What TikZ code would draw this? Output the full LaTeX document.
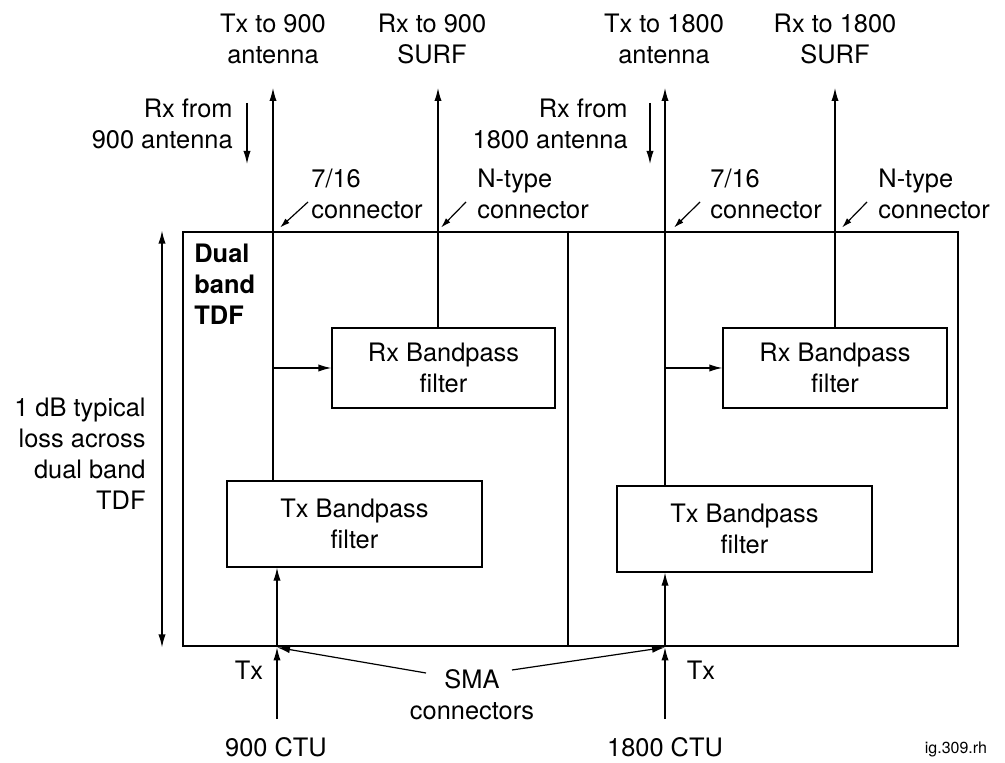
\documentclass[tikz,border=0pt]{standalone}
\usepackage{fontspec}
\setmainfont{TeX Gyre Heros}
\usepackage{tikz}
\usetikzlibrary{arrows.meta, positioning}

\newcommand{\diagfont}{\fontsize{12.7}{15.5}\selectfont}

\begin{document}
\begin{tikzpicture}[
    x=0.5pt, y=-0.5pt,
    every node/.style={font=\diagfont, inner sep=0pt},
    filter/.style={draw, rectangle, line width=0.6pt, align=center},
    frame/.style={draw, rectangle, line width=1.4pt},
    line/.style={line width=0.6pt},
    arrow/.style={-{Latex[length=6.5pt, width=3.6pt]}, line width=0.6pt},
    pointer/.style={-{Latex[length=5pt, width=3pt]}, line width=0.6pt},
    dimline/.style={{Latex[length=6.5pt, width=3.6pt]}-{Latex[length=6.5pt, width=3.6pt]}, line width=0.6pt}
]
\useasboundingbox (0,0) rectangle (1005,763);

% TDF frame
\node[frame, minimum width=387.5pt, minimum height=207pt] (tdf) at (570.5,439) {};
\coordinate (mid) at (568,439);
\draw[line] (tdf.north -| mid) -- (tdf.south -| mid);
\node[font=\diagfont\bfseries, align=left, anchor=north west] (name) at (194,244) {Dual\\band\\TDF};

% Filters
\node[filter, minimum width=127.5pt, minimum height=43pt] (txa) at (354.5,524) {Tx Bandpass\\filter};
\node[filter, minimum width=111.5pt, minimum height=40pt] (rxa) at (443.5,368) {Rx Bandpass\\filter};
\node[filter, minimum width=127.5pt, minimum height=43pt] (txb) at (744.5,529) {Tx Bandpass\\filter};
\node[filter, minimum width=112pt, minimum height=40pt] (rxb) at (835,368) {Rx Bandpass\\filter};

% Ports
\coordinate (ant900) at (273,88);
\coordinate (surf900) at (438,88);
\coordinate (ant1800) at (665,88);
\coordinate (surf1800) at (835,88);
\coordinate (ctu900) at (277,719);
\coordinate (ctu1800) at (665,719);
\coordinate (j900) at (tdf.north -| ant900);
\coordinate (n900) at (tdf.north -| surf900);
\coordinate (j1800) at (tdf.north -| ant1800);
\coordinate (n1800) at (tdf.north -| surf1800);
\coordinate (sma900) at (tdf.south -| ctu900);
\coordinate (sma1800) at (tdf.south -| ctu1800);

% 900 paths
\draw[arrow] (txa.north -| ant900) -- (ant900);
\draw[arrow] (rxa.west -| ant900) -- (rxa.west);
\draw[arrow] (rxa.north -| surf900) -- (surf900);
\draw[arrow] (ctu900) -- (sma900);
\draw[arrow] (sma900) -- (txa.south -| ctu900);

% 1800 paths
\draw[arrow] (txb.north -| ant1800) -- (ant1800);
\draw[arrow] (rxb.west -| ant1800) -- (rxb.west);
\draw[arrow] (rxb.north) -- (surf1800);
\draw[arrow] (ctu1800) -- (sma1800);
\draw[arrow] (sma1800) -- (txb.south -| ctu1800);

% Top labels
\node[align=center, anchor=north] (txant900) at (273,14) {Tx to 900\\antenna};
\node[align=center, anchor=north] (rxsurf900) at (432,14) {Rx to 900\\SURF};
\node[align=center, anchor=north] (txant1800) at (664,14) {Tx to 1800\\antenna};
\node[align=center, anchor=north] (rxsurf1800) at (835,14) {Rx to 1800\\SURF};

\node[align=right, anchor=north east] (rxin900) at (233,99) {Rx from\\900 antenna};
\node[align=right, anchor=north east] (rxin1800) at (628,99) {Rx from\\1800 antenna};
\draw[arrow] ([shift={(14,4)}]rxin900.north east) -- ([shift={(14,65)}]rxin900.north east);
\draw[arrow] ([shift={(22,4)}]rxin1800.north east) -- ([shift={(22,65)}]rxin1800.north east);

% Connector labels
\node[align=left, anchor=north west] (c716a) at (311,169) {7/16\\connector};
\node[align=left, anchor=north west] (ntypea) at (477,169) {N-type\\connector};
\node[align=left, anchor=north west] (c716b) at (710,169) {7/16\\connector};
\node[align=left, anchor=north west] (ntypeb) at (878,169) {N-type\\connector};
\draw[pointer] ([shift={(-3,33)}]c716a.north west) -- ([shift={(7,-3)}]j900);
\draw[pointer] ([shift={(-11,33)}]ntypea.north west) -- ([shift={(3,-3)}]n900);
\draw[pointer] ([shift={(-10,33)}]c716b.north west) -- ([shift={(9,-3)}]j1800);
\draw[pointer] ([shift={(-11,33)}]ntypeb.north west) -- ([shift={(7,-3)}]n1800);

% Loss
\node[align=right, anchor=north east] (loss) at (146,398) {1 dB typical\\loss across\\dual band\\TDF};
\coordinate (dimx) at (162,439);
\draw[dimline] (tdf.north -| dimx) -- (tdf.south -| dimx);

% Bottom labels
\node[anchor=base] (txin900) at (249,679) {Tx};
\node[anchor=base] (txin1800) at (701,679) {Tx};
\node[align=center, anchor=north] (sma) at (472,669) {SMA\\connectors};
\draw[arrow] ([shift={(-46,4)}]sma.north) -- (sma900);
\draw[arrow] ([shift={(40,1)}]sma.north) -- (sma1800);
\node[anchor=base] (ctulbl900) at (276,756) {900 CTU};
\node[anchor=base] (ctulbl1800) at (665,756) {1800 CTU};
\node[font=\fontsize{8}{9}\selectfont, anchor=base] (figref) at (956,753) {ig.309.rh};

\end{tikzpicture}
\end{document}
